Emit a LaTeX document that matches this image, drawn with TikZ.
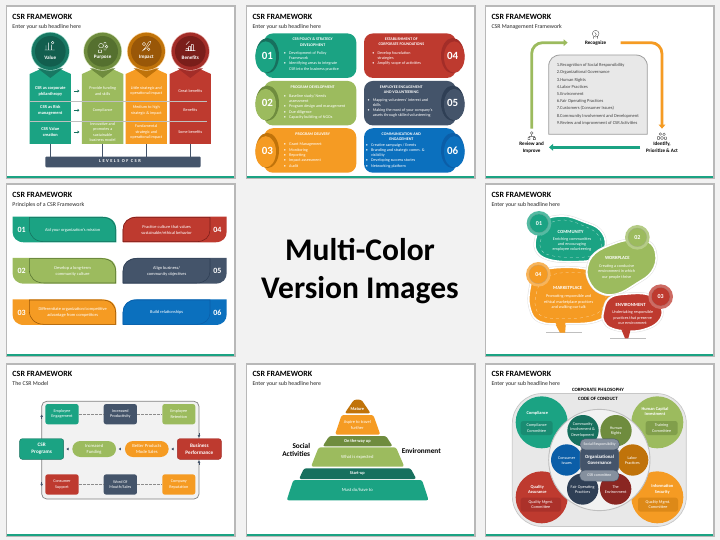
\documentclass[tikz,border=0pt]{standalone}
\usepackage{fontspec}
\setmainfont{Carlito}
\newfontfamily\spacedfont[LetterSpace=32]{Carlito}
\usetikzlibrary{arrows.meta,calc}
\definecolor{cteal}{HTML}{1BA383}
\definecolor{cteald}{HTML}{17705E}
\definecolor{ctealk}{HTML}{125E4E}
\definecolor{coli}{HTML}{9CBB5E}
\definecolor{colid}{HTML}{6F8C3E}
\definecolor{colik}{HTML}{55702F}
\definecolor{corg}{HTML}{F59B23}
\definecolor{corgd}{HTML}{C0730A}
\definecolor{corgk}{HTML}{995708}
\definecolor{cred}{HTML}{BE3A2F}
\definecolor{credd}{HTML}{A32D28}
\definecolor{credk}{HTML}{7A1E1A}
\definecolor{cnavy}{HTML}{44546A}
\definecolor{cnavyd}{HTML}{2F3F55}
\definecolor{cblue}{HTML}{0B70BE}
\definecolor{cblued}{HTML}{0B5EA8}
\newcommand\fs[2]{\fontsize{#1}{#2}\selectfont}
\tikzset{
 wt/.style={text=white,align=center,inner sep=0pt,font=\fs{4.15}{5.3}},
 wb/.style={text=white,align=center,inner sep=0pt,font=\fs{4}{5.4}\bfseries},
 bullets/.style={text=white,align=left,inner sep=0pt,anchor=north west,font=\fs{4.1}{5.3}},
 box/.style={inner sep=0pt,rounded corners=2.5pt,align=center,text=white,font=\fs{4.2}{5.3}},
 lab/.style={text=black,align=center,inner sep=0pt,font=\fs{5.1}{6.6}\bfseries},
 ico/.style={white,line width=.35pt},
 icog/.style={black!70,line width=.35pt},
 thickarrow/.style={line width=2.8pt,-{Triangle[length=4pt,width=6.5pt]},rounded corners=11pt},
 tipline/.style={line width=.5pt,cnavy,-{Triangle[length=2.2pt,width=2.6pt]}},
 dashcon/.style={line width=.6pt,black!45,dashed,dash pattern=on 3pt off 1pt},
}
\newcommand\pn[6]{%
 \fill[black!28] (#2-1,#3-1.5) rectangle (#2+228.5,#3+172);
 \fill[white] (#2,#3) rectangle (#2+227,#3+171);
 \fill[cteal] (#2,#3+169) rectangle (#2+227,#3+171);
 \node[anchor=west,inner sep=0pt,font=\fs{8}{9}\bfseries] (#1t) at (#2+#4,#3+#5) {CSR FRAMEWORK};
 \node[anchor=west,inner sep=0pt,font=\fs{5.85}{7},text=black!85] (#1s) at (#2+#4,#3+#5+9.7) {#6};
}
\newcommand\bx[7]{\node[box,fill=#6,minimum width={(#4-#2)/3*1pt},minimum height={(#5-#3)/3*1pt}] (#1) at ({(#2+#4)/2},{(#3+#5)/2}) {#7};}
\newcommand\pincol[6]{%
 \fill[#2] (#1-62,222)--(#1-31,208)--(#1+31,208)--(#1+62,222)--(#1+62,432)--(#1-62,432)--cycle;
 \fill[#3] (#1-38,205)--(#1+38,205)--(#1,234)--cycle;
 \fill[#2!45] (#1,154) circle[radius=58];
 \fill[#3] (#1,154) circle[radius=56];
 \fill[#4] (#1,154) circle[radius=46];
 \node[wb,font=\fs{5.1}{6}\bfseries] (#6) at (#1,172) {#5};
}
\newcommand\ncard[9]{%
 \node[box,fill=#4,rounded corners=9pt,minimum width={(#3-#2)/3*1pt},minimum height=44.5pt] (#1) at ({(#2+#3)/2},{#5}) {};
 \fill[#6] (#7,#5) ellipse[x radius=35,y radius=53];
 \fill[#4] ({#7+(#7<300?-5:5)},#5+4) ellipse[x radius=31,y radius=47];
 \node[inner sep=0pt,text=white,font=\fs{11}{12}\bfseries] (#1n) at ({#7},#5) {#8};
 #9
}
\newcommand\lcard[6]{%
 \fill[#2] (38,#1) -- (305,#1) .. controls (335,#1) and (349,#1+15) .. (349,#1+42) -- (349,#1+77) -- (72,#1+77) .. controls (50,#1+77) and (38,#1+62) .. (38,#1+48) -- cycle;
 \filldraw[fill=#2,draw=#3,line width=.55pt] (88,#1+2) -- (305,#1+2) .. controls (332,#1+2) and (347,#1+17) .. (347,#1+42) -- (347,#1+75) -- (132,#1+75) .. controls (105,#1+75) and (88,#1+58) .. (88,#1+35) -- cycle;
 \node[inner sep=0pt,text=white,font=\fs{8}{9}\bfseries] (#6n) at (65,#1+40) {#4};
 \node[wt,font=\fs{4.4}{6}] (#6) at (218,#1+40) {#5};
}
\newcommand\rcard[6]{%
 \fill[#2] (369,#1+77) -- (369,#1+38) .. controls (369,#1+15) and (385,#1) .. (410,#1) -- (680,#1) -- (680,#1+45) .. controls (680,#1+62) and (670,#1+77) .. (645,#1+77) -- cycle;
 \filldraw[fill=#2,draw=#3,line width=.55pt] (369,#1+75) -- (369,#1+38) .. controls (369,#1+17) and (385,#1+2) .. (410,#1+2) -- (630,#1+2) -- (630,#1+40) .. controls (630,#1+60) and (615,#1+75) .. (590,#1+75) -- cycle;
 \node[inner sep=0pt,text=white,font=\fs{8}{9}\bfseries] (#6n) at (652,#1+40) {#4};
 \node[wt,font=\fs{4.4}{6}] (#6) at (500,#1+40) {#5};
}
\newcommand\blob[2]{%
 \draw[line width=2.6pt,black!12] plot[smooth cycle,tension=.7] coordinates {#2};
 \filldraw[line width=1.6pt,draw=white,fill=#1] plot[smooth cycle,tension=.7] coordinates {#2};
}
\newcommand\badge[6]{%
 \fill[#5!75!white] (#2,#3) circle[radius=37];
 \draw[#5!60!black!60!white,line width=.25pt,fill=#5] (#2,#3) circle[radius=28];
 \node[inner sep=0pt,text=white,font=\fs{6}{7}\bfseries] (#1) at (#2,#3) {#4};
}
\begin{document}
\begin{tikzpicture}[x=1pt,y=-1pt]
\useasboundingbox (0,0) rectangle (720,540);
\fill[black!5] (0,0) rectangle (720,540);
\pn{pa}{7}{7}{5.3}{10.3}{Enter your sub headline here}
\pn{pb}{247}{7}{5.3}{10.3}{Enter your sub headline here}
\pn{pc}{486}{7}{5.3}{10.3}{CSR Management Framework}
\pn{pd}{7}{185}{5.3}{10}{Principles of a CSR Framework}
\pn{pe}{486}{185}{5.3}{10}{Enter your sub headline here}
\pn{pf}{7}{364.5}{5.3}{9.5}{The CSR Model}
\pn{pg}{247}{364.5}{5.3}{9.5}{Enter your sub headline here}
\pn{ph}{486}{364.5}{5.3}{9.5}{Enter your sub headline here}
\node[align=center,inner sep=0pt,font=\fs{31.5}{38.5}\bfseries] (headline) at (360,271) {Multi-Color\\Version Images};

% ---------- Panel 1
\begin{scope}[x=.33333pt,y=-.33333pt]
\pincol{151}{cteal}{cteald!85!cteal}{ctealk}{Value}{va}
\pincol{308}{coli}{colid}{colik}{Purpose}{pu}
\pincol{439}{corg}{corgd}{corgk}{Impact}{im}
\pincol{571}{cred}{credd}{credk}{Benefits}{be}
\draw[ico] (138,150)--(138,136) (146,150)--(146,128) (154,150)--(154,134) (134,150)--(164,150) (158,128) circle[radius=4];
\draw[ico] (303,137) circle[radius=7] (295,150) rectangle (305,157) (312,128) rectangle (318,150) (320,140) circle[radius=4];
\draw[ico] (428,152)--(438,140)--(446,126)--(452,124)--(450,132)--(440,144)--cycle (432,132) circle[radius=5] (446,148) circle[radius=4];
\draw[ico] (558,152)--(558,146)--(564,146)--(564,152) (566,152)--(566,140)--(572,140)--(572,152) (574,152)--(574,134)--(580,134)--(580,152) (556,152)--(586,152) (558,134)--(568,124);
\draw[white!75!black,line width=.2pt] (89,302)--(620,302) (89,362)--(620,362);
\node[wb,font=\fs{4.4}{6}\bfseries] (a1) at (151,273) {CSR as corporate\\philanthropy};
\node[wb,font=\fs{4.4}{6}\bfseries] (a2) at (151,331) {CSR as Risk\\management};
\node[wb,font=\fs{4.4}{6}\bfseries] (a3) at (151,396) {CSR Value\\creation};
\node[wt] (b1) at (308,273) {Provide funding\\and skills};
\node[wt] (b2) at (308,331) {Compliance};
\node[wt] (b3) at (308,396) {Innovative and\\promotes a\\sustainable\\business model};
\node[wt] (c1) at (439,273) {Little strategic and\\operational impact};
\node[wt] (c2) at (439,331) {Medium to high\\strategic \& impact};
\node[wt] (c3) at (439,396) {Fundamental\\strategic and\\operational impact};
\node[wt] (d1) at (571,273) {Great benefits};
\node[wt] (d2) at (571,331) {Benefits};
\node[wt] (d3) at (571,396) {Some benefits};
\foreach \yy in {273,331,396}{\draw[line width=.9pt,cteald,-{Triangle[length=1.8pt,width=3pt]}] (222,\yy)--(238,\yy);}
\node[box,fill=cnavy,rounded corners=1pt,minimum width=155.3pt,minimum height=10.7pt] (lev) at (369,486) {};
\node[text=white,inner sep=0pt,font=\spacedfont\fs{4.5}{5}\bfseries] (levt) at (360,484) {LEVELS OF CSR};
\foreach \n/\xx in {va/151,pu/308,im/439,be/571}{\coordinate (\n b) at (\xx,432); \draw[cnavy,line width=.8pt] (\n b)--(\xx,470);}
\end{scope}

% ---------- Panel 2
\begin{scope}[shift={(240,0)},x=.33333pt,y=-.33333pt]
\ncard{k1}{72}{349}{cteal}{167}{cteald}{82}{01}{
 \node[wb] at (218,126) {CSR POLICY \& STRATEGY\\DEVELOPMENT};
 \node[bullets] at (147,154) {\llap{•\hspace{3.2pt}}Development of Policy\\Framework\\\llap{•\hspace{3.2pt}}Identifying areas to integrate\\CSR into the business practice};}
\ncard{k2}{72}{349}{coli}{309.5}{colid}{82}{02}{
 \node[wb] at (218,261) {PROGRAM DEVELOPMENT};
 \node[bullets] at (147,283) {\llap{•\hspace{3.2pt}}Baseline study/ Needs\\assessment\\\llap{•\hspace{3.2pt}}Program design and management\\\llap{•\hspace{3.2pt}}Due diligence\\\llap{•\hspace{3.2pt}}Capacity building of NGOs};}
\ncard{k3}{72}{349}{corg}{451.5}{corgd}{82}{03}{
 \node[wb] at (218,403) {PROGRAM DELIVERY};
 \node[bullets] at (147,429) {\llap{•\hspace{3.2pt}}Grant Management\\\llap{•\hspace{3.2pt}}Monitoring\\\llap{•\hspace{3.2pt}}Reporting\\\llap{•\hspace{3.2pt}}Impact assessment\\\llap{•\hspace{3.2pt}}Audit};}
\ncard{k4}{372}{648}{cred}{167}{credd}{638}{04}{
 \node[wb] at (484,126) {ESTABLISHMENT OF\\CORPORATE FOUNDATIONS};
 \node[bullets] at (412,154) {\llap{•\hspace{3.2pt}}Develop foundation\\strategies\\\llap{•\hspace{3.2pt}}Amplify scope of activities};}
\ncard{k5}{372}{648}{cnavy}{309.5}{cnavyd}{638}{05}{
 \node[wb] at (484,269) {EMPLOYEE ENGAGEMENT\\AND VOLUNTEERING};
 \node[bullets] at (398,294) {\llap{•\hspace{3.2pt}}Mapping volunteers' interest and\\skills\\\llap{•\hspace{3.2pt}}Making the most of your company's\\assets through skilled volunteering};}
\ncard{k6}{372}{648}{cblue}{451.5}{cblued}{638}{06}{
 \node[wb] at (484,411) {COMMUNICATION AND\\ENGAGEMENT};
 \node[bullets] at (393,429) {\llap{•\hspace{3.2pt}}Creative campaign / Events\\\llap{•\hspace{3.2pt}}Branding and strategic comm. \&\\visibility\\\llap{•\hspace{3.2pt}}Developing success stories\\\llap{•\hspace{3.2pt}}Networking platform};}
\end{scope}

% ---------- Panel 3
\begin{scope}[shift={(480,0)},x=.33333pt,y=-.33333pt]
\filldraw[fill=black!9,draw=black!38,line width=.8pt] (206,403) -- (206,200) .. controls (206,178) and (220,165) .. (242,165) -- (466,165) .. controls (488,165) and (502,178) .. (502,200) -- (502,403) -- cycle;
\node[anchor=north west,inner sep=0pt,align=left,text=black!75,font=\fs{4.5}{7.2}] (items) at (230,190) {1.Recognition of Social Responsibility\\2.Organizational Governance\\3.Human Rights\\4.Labor Practices\\5.Environment\\6.Fair Operating Practices\\7.Customers (Consumer Issues)\\8.Community Involvement and Development\\9.Review and improvement of CSR Activities};
\node[lab] (rec) at (347,128) {Recognize};
\node[lab] (rev) at (155,443) {Review and\\Improve};
\node[lab] (ide) at (546,441) {Identify,\\Prioritize \& Act};
\coordinate (g1) at (155,386); \coordinate (g2) at (263,128);
\coordinate (o1) at (422,128); \coordinate (o2) at (546,386);
\coordinate (t1) at (480,442); \coordinate (t2) at (207,442);
\draw[thickarrow,coli] (g1) |- (g2);
\draw[thickarrow,corg] (o1) -| (o2);
\draw[thickarrow,cteal,rounded corners=0pt] (t1) -- (t2);
\draw[icog] (347,101) circle[radius=10] (341,111)--(341,116) (353,108)--(353,116) (344,97)--(349,103)--(346,107);
\draw[icog] (155,399) circle[radius=4] (144,413) rectangle (150,419) (160,413) rectangle (166,419) (155,403)--(155,409)--(147,409)--(147,413) (155,409)--(163,409)--(163,413);
\draw[icog] (541,402) circle[radius=4] (552,403) circle[radius=4] (546,414) circle[radius=5] (533,410) rectangle (538,418) (554,411) rectangle (559,418);
\end{scope}

% ---------- Panel 4
\begin{scope}[shift={(0,180)},x=.33333pt,y=-.33333pt]
\lcard{110}{cteal}{cteald}{01}{Aid your organization's mission}{l1}
\lcard{234}{coli}{colik}{02}{Develop a long-term\\community culture}{l2}
\lcard{358}{corg}{corgk}{03}{Differentiate organization/competitive\\advantage from competitors}{l3}
\rcard{110}{cred}{credk}{04}{Practice culture that values\\sustainable/ethical behavior}{l4}
\rcard{234}{cnavy}{cnavyd}{05}{Align business/\\community objectives}{l5}
\rcard{358}{cblue}{cblued}{06}{Build relationships}{l6}
\end{scope}

% ---------- Panel 5
\begin{scope}[shift={(480,180)},x=.33333pt,y=-.33333pt]
\fill[black!25] (198,456) rectangle (305,458);
\fill[black!25] (390,474.5) rectangle (498,476.5);
\blob{cteal}{(170,165)(190,122)(250,108)(310,125)(360,150)(376,195)(350,235)(280,245)(205,238)(168,210)}
\draw[white!70!cteal,dashed,line width=.25pt] plot[smooth cycle,tension=.7] coordinates {(185,170)(200,135)(250,120)(305,135)(350,160)(364,195)(345,225)(280,232)(210,226)(182,205)};
\fill[corg] (222,425)--(258,425)--(255,458)--(240,458)--cycle;
\blob{corg}{(150,325)(172,278)(250,262)(340,272)(390,300)(395,380)(350,423)(255,431)(180,425)(150,385)}
\fill[corg] (224,424)--(256,424)--(255,457)--(241,457)--cycle;
\draw[white!65!corg,dashed,line width=.25pt] plot[smooth cycle,tension=.7] coordinates {(168,345)(190,300)(250,278)(340,285)(375,320)(370,380)(330,408)(255,416)(190,410)(168,385)};
\blob{coli}{(322,262)(345,220)(400,192)(450,180)(505,185)(528,225)(515,275)(470,310)(410,342)(360,338)(328,305)}
\blob{cred}{(370,397)(388,355)(440,342)(510,346)(545,385)(535,425)(490,449)(440,453)(395,445)(372,425)}
\fill[cred] (424,448)--(452,448)--(445,475)--(435,475)--cycle;
\badge{b01}{177}{130}{01}{cteal}{}
\badge{b02}{472}{172}{02}{coli}{}
\badge{b03}{542}{350}{03}{cred}{}
\badge{b04}{175}{283}{04}{corg}{}
\node[wb,font=\fs{4.7}{6}\bfseries] (e1) at (272,155) {COMMUNITY};
\node[wt] (e1b) at (276,193) {Enriching communities\\and encouraging\\employee volunteering};
\node[wb,font=\fs{4.7}{6}\bfseries] (e2) at (412,233) {WORKPLACE};
\node[wt] (e2b) at (410,275) {Creating a conducive\\environment in which\\our people thrive};
\node[wb,font=\fs{4.7}{6}\bfseries] (e3) at (263,323) {MARKETPLACE};
\node[wt] (e3b) at (266,366) {Promoting responsible and\\ethical marketplace practices\\and walking our talk};
\node[wb,font=\fs{4.7}{6}\bfseries] (e4) at (452,374) {ENVIRONMENT};
\node[wt] (e4b) at (458,413) {Undertaking responsible\\practices that preserve\\our environment};
\end{scope}

% ---------- Panel 6
\begin{scope}[shift={(0,360)},x=.33333pt,y=-.33333pt]
\node[box,draw=black!50,line width=.7pt,fill=black!5,rounded corners=5pt,minimum width=157.3pt,minimum height=97.7pt] (frame) at (361,270.5) {};
\bx{ee}{136}{132}{236}{193}{cteal}{Employee\\Engagement}
\bx{ip}{311}{132}{411}{193}{cnavy}{Increased\\Productivity}
\bx{er}{487}{132}{586}{193}{coli}{Employee\\Retention}
\bx{cs}{136}{343}{236}{404}{cred}{Consumer\\Support}
\bx{wm}{311}{343}{411}{404}{cnavy}{Word Of\\Mouth/Sales}
\bx{cr}{487}{343}{586}{404}{corg}{Company\\Reputation}
\draw[dashcon] (ee)--(ip);
\draw[dashcon] (ip)--(er);
\draw[dashcon] (cs)--(wm);
\draw[dashcon] (wm)--(cr);
\node[box,fill=cteal,draw=cteald,line width=.4pt,font=\fs{5.2}{7}\bfseries,minimum width=44pt,minimum height=20.6pt] (prog) at (125,267) {CSR\\Programs};
\node[box,fill=cred,draw=credd,line width=.4pt,font=\fs{5.2}{7}\bfseries,minimum width=44pt,minimum height=20.6pt] (perf) at (598,267) {Business\\Performance};
\node[box,fill=coli,rounded corners=8pt,font=\fs{4.6}{6},minimum width=43.7pt,minimum height=16pt] (fund) at (282.5,267) {Increased\\Funding};
\node[box,fill=corg,rounded corners=8pt,font=\fs{4.6}{6},minimum width=43.7pt,minimum height=16pt] (prod) at (440.5,267) {Better Products\\Mode Sales};
\draw[tipline,shorten <=5pt,shorten >=2.5pt] (perf.west)--(prod.east);
\draw[tipline,shorten <=5pt,shorten >=2.5pt] (prod.west)--(fund.east);
\draw[tipline,shorten <=5pt,shorten >=2.5pt] (fund.west)--(prog.east);
\coordinate (fu) at (125,176); \coordinate (fv) at (125,164);
\coordinate (fw) at (597,219); \coordinate (fx) at (597,232);
\coordinate (fy) at (597,314); \coordinate (fz) at (597,302);
\coordinate (ga) at (125,366); \coordinate (gb) at (125,378);
\draw[tipline] (fu)--(fv);
\draw[tipline] (fw)--(fx);
\draw[tipline] (fy)--(fz);
\draw[tipline] (ga)--(gb);
\end{scope}

% ---------- Panel 7
\begin{scope}[shift={(240,360)},x=.33333pt,y=-.33333pt]
\fill[rounded corners=2.2pt,corgd] (314,160)--(342,119)--(364,119)--(392,160)--cycle;
\fill[rounded corners=2.2pt,corg] (285,224)--(305,165)--(400,165)--(421,224)--cycle;
\fill[rounded corners=2.2pt,colid] (248,259)--(268,228)--(438,228)--(458,259)--cycle;
\fill[rounded corners=2.2pt,coli] (213,320)--(236,262)--(468,262)--(493,320)--cycle;
\fill[rounded corners=2.2pt,cteald] (177,357)--(192,325)--(512,325)--(529,357)--cycle;
\fill[rounded corners=2.2pt,cteal] (140,421)--(160,360)--(546,360)--(566,421)--cycle;
\node[wb,font=\fs{4.4}{5.6}\bfseries] (y1) at (352,148) {Mature};
\node[wt,font=\fs{4.4}{5.7}] (y2) at (352,194) {Aspire to travel\\further};
\node[wb,font=\fs{4.4}{5.6}\bfseries] (y3) at (352,244) {On the way up};
\node[wt,font=\fs{4.6}{5.6}] (y4) at (352,291) {What is expected};
\node[wb,font=\fs{4.4}{5.6}\bfseries] (y5) at (352,341) {Start-up};
\node[wt,font=\fs{4.6}{5.6}] (y6) at (352,391) {Must do/have to};
\node[inner sep=0pt,anchor=east,align=right,font=\fs{7.3}{8.8}\bfseries] (soc) at (211,270) {Social\\Activities};
\node[inner sep=0pt,anchor=west,font=\fs{7.3}{8.8}\bfseries] (env) at (485,274) {Environment};
\end{scope}

% ---------- Panel 8
\begin{scope}[shift={(480,360)},x=.33333pt,y=-.33333pt]
\node[box,fill=black!9,draw=black!22,line width=.7pt,rounded corners=30pt,minimum width=174pt,minimum height=133pt] (big) at (358,300) {};
\node[lab,font=\fs{4.9}{6}\bfseries] (corp) at (354,89) {CORPORATE PHILOSOPHY};
\node[lab,font=\fs{4.9}{6}\bfseries] (code) at (354,117) {CODE OF CONDUCT};
\fill[cteal] (185,187) circle[radius=78];
\fill[coli] (532,187) circle[radius=78];
\fill[cred] (185,412) circle[radius=78];
\fill[corg] (532,412) circle[radius=78];
\node[wb,font=\fs{4.4}{5.5}\bfseries] (n1) at (172,160) {Compliance};
\node[wb,font=\fs{4.4}{5.5}\bfseries] (n2) at (525,155) {Human Capital\\Investment};
\node[wb,font=\fs{4.4}{5.5}\bfseries] (n3) at (172,388) {Quality\\Assurance};
\node[wb,font=\fs{4.4}{5.5}\bfseries] (n4) at (547,388) {Information\\Security};
\bx{m1}{122}{183}{218}{225}{cteald!45!cteal}{Compliance\\Committee}
\bx{m2}{497}{183}{593}{225}{colid!60!coli}{Training\\Committee}
\bx{m3}{122}{413}{243}{455}{credd!70!cred}{Quality Mgmt.\\Committee}
\bx{m4}{474}{413}{594}{455}{corgd!45!corg}{Quality Mgmt.\\Committee}
\filldraw[fill=black!5,draw=black!25,line width=.9pt] (358,300) circle[radius=152];
\fill[cteald] (309,212) circle[radius=47];
\fill[colid] (408,212) circle[radius=47];
\fill[cblued] (260,300) circle[radius=47];
\fill[corgd] (458,300) circle[radius=47];
\fill[cnavyd] (308,387) circle[radius=47];
\fill[credd!85!black] (407,387) circle[radius=47];
\node[wt] (q1) at (308,209) {Community\\Involvement \&\\Development};
\node[wt] (q2) at (408,214) {Human\\Rights};
\node[wt] (q3) at (260,301) {Consumer\\Issues};
\node[wt] (q4) at (457,301) {Labor\\Practices};
\node[wt] (q5) at (308,388) {Fair Operating\\Practices};
\node[wt] (q6) at (407,388) {The\\Environment};
\node[box,fill=cnavy,draw=black!40,line width=.3pt,rounded corners=6pt,font=\fs{4.8}{6}\bfseries,minimum width=39pt,minimum height=26pt] (gov) at (358.5,300) {Organizational\\Governance};
\node[box,fill=cnavy!65!white,draw=cnavy,line width=.4pt,rounded corners=5pt,font=\fs{3.9}{5},minimum width=39.3pt,minimum height=11pt] (sr) at (359,253) {Social Responsibility};
\node[box,fill=cnavy!65!white,draw=cnavy,line width=.4pt,rounded corners=5pt,font=\fs{3.9}{5},minimum width=39.3pt,minimum height=11pt] (cc) at (358,347) {CSR committee};
\end{scope}
\end{tikzpicture}
\end{document}
